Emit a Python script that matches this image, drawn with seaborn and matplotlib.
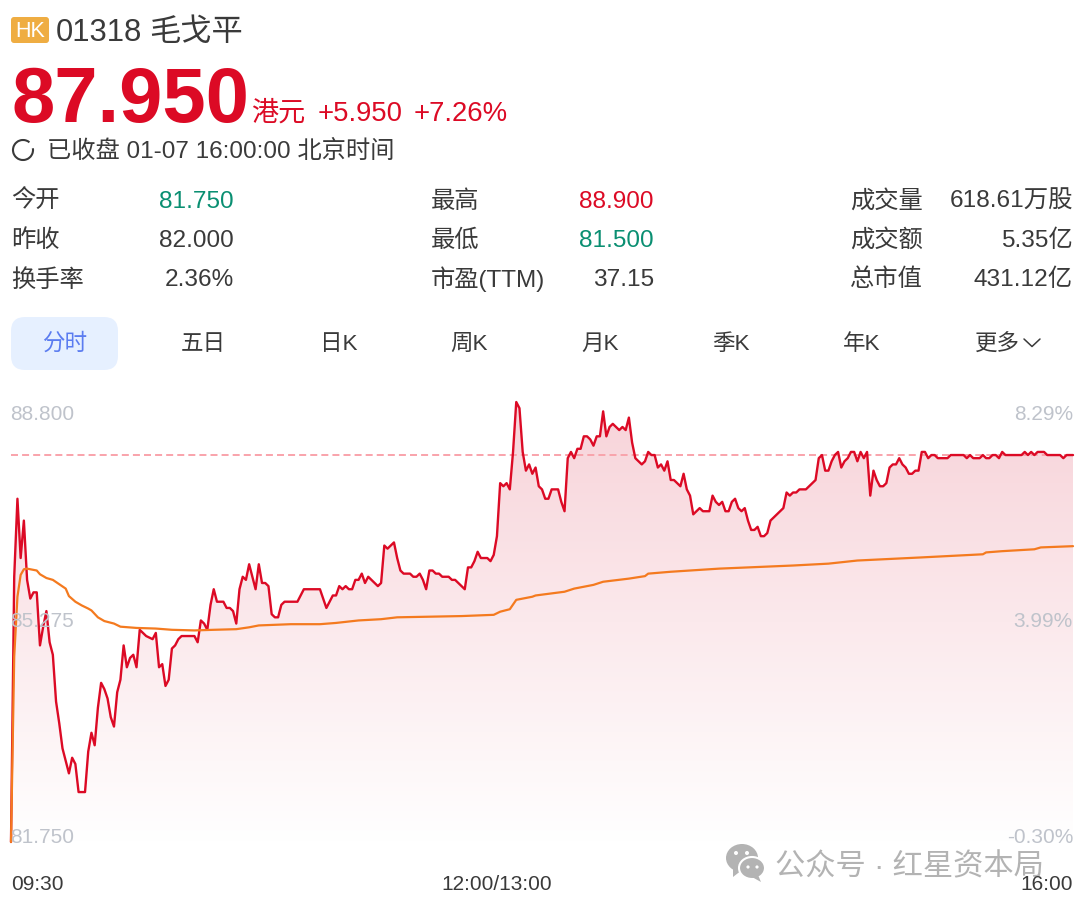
import numpy as np
import pandas as pd
import seaborn as sns
import matplotlib.pyplot as plt
from matplotlib.colors import LinearSegmentedColormap
from matplotlib.patches import FancyBboxPatch, Ellipse, Arc, Polygon

# Price line (minutes since 09:30, lunch removed)
price_minutes = [0, 1, 2, 3, 4, 5, 6, 7, 8, 9, 10, 11, 12, 13, 14, 15, 16, 18, 19, 20, 21, 23, 24, 25, 26, 27, 28, 29, 30,
                 31, 32, 33, 34, 35, 36, 37, 38, 39, 40, 42, 44, 45, 46, 47, 48, 49, 50, 51, 52, 53, 57, 58, 59, 60,
                 61, 62, 63, 64, 66, 67, 68, 69, 70, 71, 72, 73, 74, 76, 77, 78, 79, 80, 81, 82, 83, 84, 85, 89, 91,
                 96, 98, 100, 101, 102, 103, 104, 105, 106, 107, 108,
                 109, 110, 111, 114, 115, 116, 117, 119, 120, 121, 122, 124, 125, 126, 127, 128, 129, 130, 131, 132,
                 133, 134, 136, 137, 138, 141, 142, 143, 144, 145, 146, 148, 149, 150, 151, 152, 153, 154, 155, 156,
                 157, 158, 159, 160, 161, 162, 163, 164, 165, 166, 167, 168, 170, 171, 172, 173, 174, 175, 176, 177,
                 178, 179, 180, 181, 182, 183, 184, 185, 186, 187, 188, 189, 190, 191, 192, 193, 194, 195, 196, 197,
                 198, 199, 200, 201, 202, 203, 204, 205, 206, 208, 209, 210, 211, 212, 214, 215, 217, 218, 219, 220,
                 221, 222, 223, 224, 225, 226, 227, 228, 229, 230, 231, 232, 233, 234, 235, 236, 237, 238, 239, 240,
                 241, 242, 243, 244, 245, 247, 248, 250, 251, 252, 253, 254, 255, 256, 257, 258, 259, 260, 261, 262,
                 263, 264, 265, 266, 267, 268, 269, 270, 271, 272, 273, 274, 275, 276, 277, 278, 279, 280, 281, 282,
                 283, 284, 285, 286, 287, 288, 291, 292, 296, 297, 298, 299, 301, 302, 303, 304, 305, 306, 307, 308,
                 309, 314, 315, 316, 317, 318, 319, 321, 322, 326, 327, 328, 330]
price_values = [81.75, 86.0, 87.25, 86.3, 86.9, 85.95, 85.65, 85.75, 85.75, 84.9, 85.2, 85.45, 84.95, 84.75, 84.0, 83.65,
                83.25, 82.85, 83.1, 83.0, 82.55, 82.55, 83.2, 83.5, 83.3, 83.9, 84.3, 84.2, 84.05, 83.75, 83.6, 84.15,
                84.35, 84.9, 84.55, 84.7, 84.75, 84.55, 85.15, 85.05, 85.0, 85.1, 84.55, 84.6, 84.25, 84.35, 84.85,
                84.9, 85.0, 85.05, 85.05, 84.95, 85.3, 85.25, 85.15, 85.55, 85.8, 85.6, 85.6, 85.5, 85.5, 85.45, 85.25,
                85.8, 86.0, 85.95, 86.2, 85.8, 86.2, 85.9, 85.9, 85.85, 85.4, 85.35, 85.35, 85.55, 85.6, 85.6, 85.8,
                85.8, 85.5, 85.7, 85.7, 85.85, 85.8, 85.85, 85.8, 85.8, 85.95, 85.95,
                86.05, 85.9, 86.0, 85.85, 85.9, 86.5, 86.45, 86.55, 86.3, 86.1, 86.05, 86.05, 86.0, 86.0, 86.05, 85.95,
                85.8, 86.1, 86.1, 86.05, 86.05, 86.0, 86.0, 85.95, 85.95, 85.8, 86.15, 86.15, 86.25, 86.4, 86.3, 86.3,
                86.25, 86.35, 86.65, 87.5, 87.45, 87.5, 87.4, 88.0, 88.8, 88.7, 88.0, 87.7, 87.8, 87.65, 87.75, 87.45,
                87.4, 87.25, 87.25, 87.4, 87.4, 87.2, 87.05, 87.9, 88.0, 87.9, 88.05, 88.05, 88.25, 88.25, 88.2, 88.1,
                88.25, 88.25, 88.65, 88.25, 88.4, 88.45, 88.4, 88.35, 88.4, 88.35, 88.55, 88.15, 87.9, 87.85, 87.8,
                87.85, 88.0, 87.95, 87.95, 87.75, 87.8, 87.7, 87.85, 87.55, 87.55, 87.45, 87.65, 87.4, 87.3, 87.0,
                87.1, 87.05, 87.05, 87.3, 87.2, 87.15,
                87.2, 87.05, 87.05, 87.2, 87.25, 87.1, 87.05, 87.1, 86.9, 86.75, 86.75, 86.8, 86.65, 86.65, 86.7, 86.9,
                86.95, 87.0, 87.05, 87.1, 87.35, 87.3, 87.35, 87.35, 87.4, 87.4, 87.45, 87.55, 87.9, 87.95, 87.7, 87.7,
                87.85, 87.95, 88.0, 87.75, 87.85, 87.9, 88.0, 88.0, 87.85, 88.0, 87.9, 88.0, 87.3, 87.7, 87.55, 87.45,
                87.45, 87.5, 87.75, 87.8, 87.8, 87.9, 87.8, 87.75, 87.65, 87.65, 87.7, 87.7, 88.0, 88.0, 87.9, 87.95,
                87.95, 87.9, 87.9, 87.95, 87.95, 87.9, 87.95, 87.9, 87.9, 87.95, 87.9, 87.9, 87.95, 87.95, 87.9, 88.0,
                87.95, 87.95, 88.0, 87.95, 88.0, 87.95, 88.0, 88.0, 87.95, 87.95, 87.9, 87.95, 87.95]

# Average price line
avg_minutes = [0, 1, 2, 3, 4, 5, 8, 9, 11, 13, 15, 17, 18, 20, 22, 24, 25, 27, 29, 32, 34, 39, 45, 50, 57, 63, 70, 74,
               77, 87, 96, 101, 108, 115, 120, 140, 150, 152, 155, 157, 160, 162, 163, 172, 175, 181, 184, 192, 197,
               198, 205, 220, 243, 254, 263, 283, 302, 303, 308, 318, 320, 330]
avg_values = [81.75, 84.72, 85.68, 86.03, 86.12, 86.13, 86.1, 86.04, 85.98, 85.95, 85.88, 85.81, 85.69, 85.6, 85.54,
              85.49, 85.46, 85.35, 85.29, 85.25, 85.2, 85.18, 85.17, 85.15, 85.14, 85.15, 85.16, 85.19, 85.22, 85.24,
              85.24, 85.26, 85.3, 85.32, 85.35, 85.37, 85.39, 85.44, 85.48, 85.63, 85.66, 85.68, 85.7, 85.76, 85.81,
              85.87, 85.92, 85.97, 86.01, 86.05, 86.08, 86.13, 86.18, 86.21, 86.26, 86.31, 86.36, 86.39, 86.41, 86.44,
              86.47, 86.49]

last_price = 87.95
left_values = [88.8, 85.275, 81.75]
left_labels = ['88.800', '85.275', '81.750']
right_labels = ['8.29%', '3.99%', '-0.30%']
label_valign = ['top', 'center', 'bottom']
time_ticks = [0, 151, 330]
time_labels = ['09:30', '12:00/13:00', '16:00']
time_align = ['left', 'center', 'right']

# Quote table
stat_labels = [['今开', '昨收', '换手率'], ['最高', '最低', '市盈(TTM)'], ['成交量', '成交额', '总市值']]
stat_values = [['81.750', '82.000', '2.36%'], ['88.900', '81.500', '37.15'], ['618.61万股', '5.35亿', '431.12亿']]
tabs = ['分时', '五日', '日K', '周K', '月K', '季K', '年K', '更多']

RED = '#dc0a25'
GREEN = '#0a8f72'
DARK = '#3a3a3a'
GREY = '#bfc3cb'

sns.set_theme(style='white')
plt.rcParams['font.family'] = ['Liberation Sans', 'Noto Sans CJK SC', 'DejaVu Sans']

W, H = 1080, 907
fig = plt.figure(figsize=(W / 100, H / 100), dpi=100, facecolor='white')

# Chart area, in figure fractions worked out from pixel edges
ax = fig.add_axes([11 / W, 1 - 842 / H, (1073 - 11) / W, (842 - 402) / H])
ax.set_xlim(0, 330)
ax.set_ylim(81.75, 88.8)
ax.axis('off')

df = pd.DataFrame({'minute': price_minutes, 'price': price_values})
df_avg = pd.DataFrame({'minute': avg_minutes, 'price': avg_values})

# Gradient under the price line
cmap = LinearSegmentedColormap.from_list('fade', ['#ffffff', '#fbe9ec', '#f8d3d9'])
grad = np.linspace(1, 0, 256).reshape(-1, 1)
im = ax.imshow(grad, cmap=cmap, vmin=0, vmax=1, extent=[0, 330, 81.75, 88.8], aspect='auto', zorder=1)
poly = Polygon(np.column_stack([[0] + price_minutes + [330], [81.75] + price_values + [81.75]]),
               closed=True, transform=ax.transData, facecolor='none', edgecolor='none')
ax.add_patch(poly)
im.set_clip_path(poly)

ax.axhline(last_price, color='#f9a3ab', lw=1.4, dashes=(3.6, 2.1), zorder=2)
sns.lineplot(data=df, x='minute', y='price', color=RED, lw=1.7, estimator=None, errorbar=None, ax=ax, zorder=3,
             clip_on=False, solid_joinstyle='round')
sns.lineplot(data=df_avg, x='minute', y='price', color='#f47a1f', lw=1.6, estimator=None, errorbar=None, ax=ax, zorder=4,
             clip_on=False, solid_joinstyle='round')
ax.set_xlim(0, 330)
ax.set_ylim(81.75, 88.8)

for v, l, r, va in zip(left_values, left_labels, right_labels, label_valign):
    off = {'top': -2, 'center': 0, 'bottom': -3.5}[va]
    ax.annotate(l, (0, v), xytext=(-0.7, off), textcoords='offset points', ha='left', va=va, fontsize=15, color=GREY, zorder=5)
    ax.annotate(r, (330, v), xytext=(0, off), textcoords='offset points', ha='right', va=va, fontsize=15, color=GREY, zorder=5)

# Everything else is laid out in pixels on a full-figure overlay
ui = fig.add_axes([0, 0, 1, 1], zorder=10)
ui.set_xlim(0, W)
ui.set_ylim(H, 0)
ui.axis('off')
ui.patch.set_alpha(0)

# Header
ui.add_patch(FancyBboxPatch((14, 20), 32, 20, boxstyle='round,pad=3', fc='#efad42', ec='none'))
ui.text(30, 37, 'HK', ha='center', va='baseline', fontsize=15.5, color='white')
ui.text(56, 41, '01318', ha='left', va='baseline', fontsize=22.3, color=DARK)
ui.text(149, 41, '毛戈平', ha='left', va='baseline', fontsize=22.5, color=DARK)
ui.text(11, 122, '87.950', ha='left', va='baseline', fontsize=56, fontweight='bold', color=RED)
ui.text(251, 121, '港元', ha='left', va='baseline', fontsize=19.5, color=RED)
ui.text(318, 121, '+5.950', ha='left', va='baseline', fontsize=19.8, color=RED)
ui.text(414, 121, '+7.26%', ha='left', va='baseline', fontsize=19.8, color=RED)

ui.add_patch(Arc((23, 150), 20, 20, theta1=-10, theta2=310, ec=DARK, lw=1.5))
ui.text(47, 158.5, '已收盘 01-07 16:00:00 北京时间', ha='left', va='baseline', fontsize=17.5, color=DARK)

# Quote table
rows_y = [207.5, 247, 286.5]
colors = {'81.750': GREEN, '88.900': RED, '81.500': GREEN}
for c, (lx, vx) in enumerate([(11, 234), (431, 654), (850, 1073)]):
    for r, y in enumerate(rows_y):
        ui.text(lx, y, stat_labels[c][r], ha='left', va='baseline', fontsize=17.5, color=DARK)
        val = stat_values[c][r]
        ui.text(vx, y, val, ha='right', va='baseline', fontsize=17.6, color=colors.get(val, DARK))

# Tabs
ui.add_patch(FancyBboxPatch((25, 331), 79, 25, boxstyle='round,pad=14', fc='#e6f0ff', ec='none'))
for lab, x in zip(tabs, [65, 203, 339, 469, 600, 731, 862, 997]):
    ui.text(x, 350, lab, ha='center', va='baseline', fontsize=16.2, color='#5b7cf0' if lab == '分时' else DARK)
ui.plot([1024, 1032, 1040], [339, 346.5, 339], color=DARK, lw=1.1)

# Watermark
wm = '#b3b3b3'
ui.add_patch(Ellipse((742, 858), 32, 28, fc=wm, ec='white', lw=0))
ui.add_patch(Polygon([[733, 868], [733, 877], [742, 870]], fc=wm, ec='none'))
ui.add_patch(Ellipse((752, 868), 26, 22, fc=wm, ec='white', lw=1.5))
ui.add_patch(Polygon([[758, 875], [761, 882], [752, 877]], fc=wm, ec='none'))
for ex, ey, er in [(736, 853, 2), (747, 853, 2), (748, 867, 1.6), (757, 867, 1.6)]:
    ui.add_patch(Ellipse((ex, ey), er * 2, er * 2, fc='white', ec='none'))
ui.text(775, 875, '公众号 · 红星资本局', ha='left', va='baseline', fontsize=21.8, color=wm)

# Time axis labels sit on top of the watermark
for t, lab, ha in zip(time_ticks, time_labels, time_align):
    px = 11 + t * (1073 - 11) / 330
    ui.text(px, 890, lab, ha=ha, va='baseline', fontsize=15, color=DARK, zorder=6)

fig.savefig('out.png', dpi=100)
